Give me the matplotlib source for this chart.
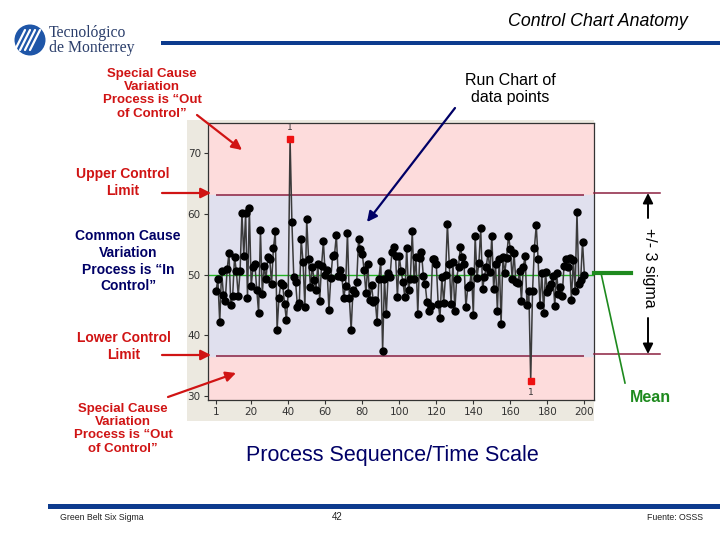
import matplotlib
matplotlib.use("Agg")
import matplotlib.pyplot as plt
from matplotlib.patches import Rectangle, Circle

# ---------------- data ----------------
values = [
    47.3, 49.2, 42.1, 50.6, 46.6, 45.7, 50.9, 53.5, 44.9, 46.5,
    52.9, 50.5, 46.5, 50.6, 60.1, 53.1, 60.1, 46.2, 60.9, 48.1,
    51.3, 51.7, 47.5, 43.7, 57.3, 46.8, 51.4, 49.3, 52.9, 52.6,
    48.5, 54.3, 57.1, 40.9, 46.2, 48.6, 48.3, 45.2, 42.5, 46.9,
    72.4, 58.6, 49.6, 48.7, 44.7, 45.3, 55.8, 52.1, 44.7, 59.1,
    52.6, 48.0, 51.3, 49.1, 47.4, 51.8, 45.7, 51.4, 55.5, 49.9,
    50.7, 44.2, 49.4, 53.0, 53.2, 56.5, 49.8, 50.7, 49.6, 46.2,
    48.1, 56.9, 46.2, 40.9, 47.5, 46.9, 48.7, 55.8, 54.2, 53.4,
    50.7, 46.9, 51.8, 45.8, 48.3, 45.5, 45.8, 42.1, 49.3, 52.3,
    37.4, 49.3, 43.5, 50.2, 49.6, 53.7, 54.5, 53.0, 46.3, 53.0,
    50.6, 48.7, 46.3, 54.4, 47.4, 49.3, 57.1, 49.2, 52.9, 43.5,
    52.8, 53.7, 49.7, 48.4, 45.4, 44.0, 44.8, 52.6, 52.5, 51.7,
    45.2, 42.9, 49.6, 45.3, 49.9, 58.4, 51.8, 45.1, 52.1, 44.0,
    49.3, 51.3, 54.5, 52.9, 51.7, 44.6, 48.0, 48.2, 50.6, 43.3,
    56.4, 49.5, 51.9, 57.6, 47.6, 49.6, 51.3, 53.6, 50.4, 56.4,
    47.6, 51.8, 44.0, 52.6, 41.8, 52.9, 50.3, 52.8, 56.4, 54.2,
    49.2, 53.6, 48.7, 48.6, 50.5, 45.7, 51.3, 53.0, 44.9, 47.3,
    32.4, 47.3, 54.4, 58.1, 52.5, 44.9, 50.3, 43.7, 50.4, 47.1,
    47.7, 48.4, 49.8, 44.8, 50.3, 46.8, 48.0, 46.5, 51.4, 52.5,
    51.3, 52.7, 45.8, 52.4, 47.3, 60.3, 48.5, 49.1, 55.4, 50.0,
]
observations = list(range(1, len(values) + 1))
ucl = 63.1
lcl = 36.5
center = 49.85
x_ticks = [1, 20, 40, 60, 80, 100, 120, 140, 160, 180, 200]
y_ticks = [30, 40, 50, 60, 70]

special_lines = ["Special Cause", "Variation", "Process is \u201cOut", "of Control\u201d"]
common_lines = ["Common Cause", "Variation", "Process is \u201cIn", "Control\u201d"]

RED = "#D01414"
NAVY = "#000066"
MAROON = "#8B2040"
GREEN = "#1E8A1E"
SLIDE_BLUE = "#0D3B8E"

W, H = 720, 540
fig = plt.figure(figsize=(W / 100, H / 100), dpi=100)
fig.patch.set_facecolor("white")

# background layer (pixel coordinates)
bg = fig.add_axes([0, 0, 1, 1], zorder=0)
bg.set_xlim(0, W); bg.set_ylim(H, 0); bg.axis("off")
bg.add_patch(Rectangle((187, 120), 407, 301, facecolor="#ECE9E0", edgecolor="none"))

# ---------------- control chart ----------------
L, R, T, B = 207.7, 594, 123.3, 400
ax = fig.add_axes([L / W, 1 - B / H, (R - L) / W, (B - T) / H], zorder=1)
ax.set_xlim(-3.5, 205.2)
ax.set_ylim(29.3, 74.94)
ax.set_facecolor("#FDDCDC")
ax.axhspan(lcl, ucl, color="#E0E0EE", zorder=0)
ax.hlines([ucl, lcl], 1, 200, color=MAROON, lw=1.1, zorder=1)
ax.axhline(center, color="#22B422", lw=1.0, zorder=1)
ax.plot(observations, values, color="#3A3A3A", lw=1.1, zorder=2)
inside = [(o, v) for o, v in zip(observations, values) if lcl <= v <= ucl]
outside = [(o, v) for o, v in zip(observations, values) if not (lcl <= v <= ucl)]
ax.plot([o for o, _ in inside], [v for _, v in inside], "o", color="black",
        ms=5, zorder=3)
ax.plot([o for o, _ in outside], [v for _, v in outside], "s", color="#EE1111",
        ms=4.5, zorder=4)
for o, v in outside:
    if v > ucl:
        ax.annotate("1", (o, v), xytext=(0, 5), textcoords="offset points",
                    ha="center", va="bottom", fontsize=6.5, color="#333333")
    else:
        ax.annotate("1", (o, v), xytext=(0, -5), textcoords="offset points",
                    ha="center", va="top", fontsize=6.5, color="#333333")
ax.set_xticks(x_ticks)
ax.set_yticks(y_ticks)
ax.tick_params(labelsize=7.5, colors="#333333", length=3, width=0.8, pad=2)
for s in ax.spines.values():
    s.set_color("#333333"); s.set_linewidth(0.9)

# ---------------- slide overlay (pixel coordinates) ----------------
ov = fig.add_axes([0, 0, 1, 1], zorder=2)
ov.set_xlim(0, W); ov.set_ylim(H, 0); ov.axis("off")
ov.patch.set_alpha(0)

# logo
ov.add_patch(Circle((30, 40), 15.5, facecolor="#1F56A8", edgecolor="none"))
for dx in (-7, -2, 3, 8):
    ov.plot([22 + dx, 32 + dx], [50, 30], color="white", lw=1.6,
            solid_capstyle="round")
ov.text(49, 33, "Tecnológico", fontsize=11.3, family="Liberation Serif",
        color="#2B3E6B", ha="left", va="center")
ov.text(49, 48, "de Monterrey", fontsize=11.3, family="Liberation Serif",
        color="#2B3E6B", ha="left", va="center")

# header / footer
ov.text(688, 22, "Control Chart Anatomy", fontsize=12.8, style="italic",
        family="Liberation Sans", ha="right", va="center", color="black")
ov.add_patch(Rectangle((161, 40.7), W - 161, 4.8, facecolor=SLIDE_BLUE, edgecolor="none"))
ov.add_patch(Rectangle((48, 504), W - 48, 4.8, facecolor=SLIDE_BLUE, edgecolor="none"))
ov.text(60, 517, "Green Belt Six Sigma", fontsize=6.3, family="Liberation Sans",
        ha="left", va="center", color="#222222")
ov.text(337, 517, "42", fontsize=7, family="Liberation Sans", ha="center",
        va="center", color="#222222")
ov.text(703, 517, "Fuente: OSSS", fontsize=6.3, family="Liberation Sans",
        ha="right", va="center", color="#222222")

ov.text(392, 455, "Process Sequence/Time Scale", fontsize=15.5,
        family="Liberation Sans", ha="center", va="center", color=NAVY)
ov.text(510, 89, "Run Chart of\ndata points", fontsize=11.5,
        family="Liberation Sans", ha="center", va="center", color="black",
        linespacing=1.15)

bold = dict(family="Liberation Sans", fontweight="bold", ha="center")

def stacked(lines, x, y0, step, size, color):
    # y0 is the visual centre of the first line; place baselines below it
    for i, line in enumerate(lines):
        ov.text(x, y0 + i * step + 0.36 * size * 100 / 72, line,
                fontsize=size, color=color, va="baseline", **bold)

stacked(special_lines, 152, 72.3, 13.2, 9.5, RED)
stacked(["Upper Control", "Limit"], 123, 173, 17.3, 10, RED)
stacked(common_lines, 128, 235, 16.8, 10, NAVY)
stacked(["Lower Control", "Limit"], 124, 337, 17.3, 10, RED)
stacked(special_lines, 123, 407, 13.3, 9.5, RED)

def arrow(p0, p1, color, lw=1.6):
    ov.annotate("", xy=p1, xytext=p0,
                arrowprops=dict(arrowstyle="-|>,head_length=0.6,head_width=0.3",
                                color=color, lw=lw, shrinkA=0, shrinkB=0))

arrow((197, 115), (242, 150), RED)
arrow((162, 193), (211, 193), RED)
arrow((162, 355), (211, 355), RED)
arrow((168, 397), (236, 373), RED)
arrow((455, 108), (367, 222), NAVY)

# right side annotations
ov.plot([594, 660], [193, 193], color=MAROON, lw=1.1)
ov.plot([594, 660], [354, 354], color=MAROON, lw=1.1)
arrow((648, 218), (648, 193), "black", lw=1.4)
arrow((648, 318), (648, 354), "black", lw=1.4)
ov.text(649, 268, "+/- 3 sigma", rotation=-90, fontsize=11.5,
        family="Liberation Sans", ha="center", va="center", color="black")
ov.plot([594, 631], [273, 273], color=GREEN, lw=3)
ov.plot([601, 625], [273, 383], color=GREEN, lw=1.2)
ov.text(650, 397, "Mean", fontsize=11.5, color=GREEN, va="center", **bold)

fig.savefig("out.png", dpi=100)
